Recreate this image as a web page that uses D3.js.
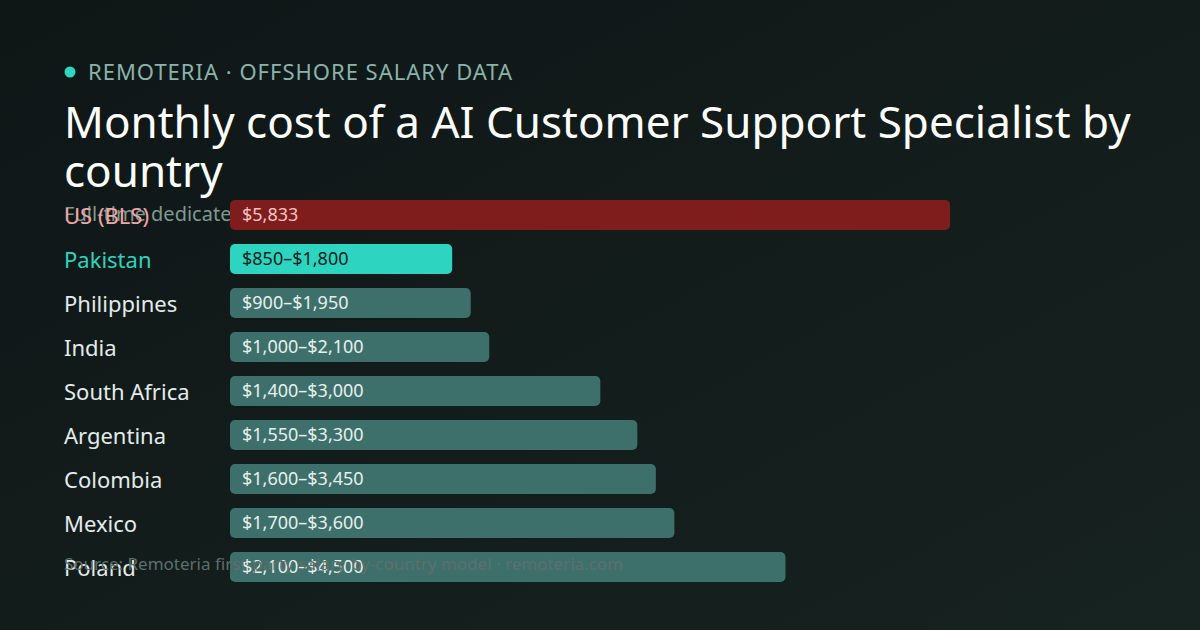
<!DOCTYPE html>
<html><head><meta charset="utf-8">
<script src="https://cdn.jsdelivr.net/npm/d3@7"></script>
<style>html,body{margin:0;padding:0;background:#111a1a;}svg{display:block;font-family:"Noto Sans",sans-serif;}</style>
</head><body>
<script>
const countries = ["US (BLS)","Pakistan","Philippines","India","South Africa","Argentina","Colombia","Mexico","Poland"];
const lowValues = [null,850,900,1000,1400,1550,1600,1700,2100];
const highValues = [5833,1800,1950,2100,3000,3300,3450,3600,4500];
const eyebrow = "REMOTERIA · OFFSHORE SALARY DATA";
const titleLines = ["Monthly cost of a AI Customer Support Specialist by","country"];
const subtitle = "Full-time dedicated hire, total monthly cost in USD";
const source = "Source: Remoteria first-party salary-by-country model · remoteria.com";

const W=1200,H=630;
const svg=d3.select("body").append("svg").attr("width",W).attr("height",H);
const defs=svg.append("defs");
const g=defs.append("linearGradient").attr("id","bg").attr("x1","0").attr("y1","0").attr("x2","1").attr("y2","1");
g.append("stop").attr("offset","0").attr("stop-color","#0e1616");
g.append("stop").attr("offset","1").attr("stop-color","#172320");
svg.append("rect").attr("width",W).attr("height",H).attr("fill","url(#bg)");

svg.append("circle").attr("cx",70).attr("cy",72).attr("r",5.5).attr("fill","#2dd4bf");
svg.append("text").attr("x",88).attr("y",80).attr("font-size",22).attr("letter-spacing",1)
  .attr("fill","#8ab3ac").text(eyebrow);
svg.append("text").attr("font-size",44).attr("fill","#ffffff")
  .selectAll("tspan").data(titleLines).join("tspan").attr("x",64).attr("y",(d,i)=>138+i*49).text(d=>d);
svg.append("text").attr("x",64).attr("y",221).attr("font-size",20).attr("fill","#7f9a94").text(subtitle);

const x=d3.scaleLinear().domain([0,5833]).range([230,950]);
const y=d3.scaleBand().domain(countries).range([200,582]).paddingInner(14/44).paddingOuter(0).align(0);
const fillFor=(d,i)=> i===0?"#7f1d1d":(i===1?"#2dd4bf":"#3e706b");
const labelFill=(d,i)=> i===0?"#f3a5a5":(i===1?"#2dd4bf":"#e4ebea");
const valFill=(d,i)=> i===0?"#f6c3c3":(i===1?"#0d1f1d":"#e6efed");
const fmt=d3.format(",");
const rows=svg.append("g").selectAll("g").data(countries).join("g");
rows.append("text").attr("x",64).attr("y",d=>y(d)+y.bandwidth()/2).attr("dy","0.41em")
  .attr("font-size",22).attr("fill",labelFill).text(d=>d);
rows.append("rect").attr("x",x(0)).attr("y",d=>y(d)).attr("height",y.bandwidth())
  .attr("width",(d,i)=>x(highValues[i])-x(0)).attr("rx",5).attr("fill",fillFor);
rows.append("text").attr("x",x(0)+12).attr("y",d=>y(d)+y.bandwidth()/2).attr("dy","0.35em")
  .attr("font-size",18).attr("fill",valFill)
  .text((d,i)=> lowValues[i]==null?"$"+fmt(highValues[i]):"$"+fmt(lowValues[i])+"–$"+fmt(highValues[i]));

svg.append("text").attr("x",64).attr("y",570).attr("font-size",17).attr("fill","#5d6f6b").text(source);
</script>
</body></html>
